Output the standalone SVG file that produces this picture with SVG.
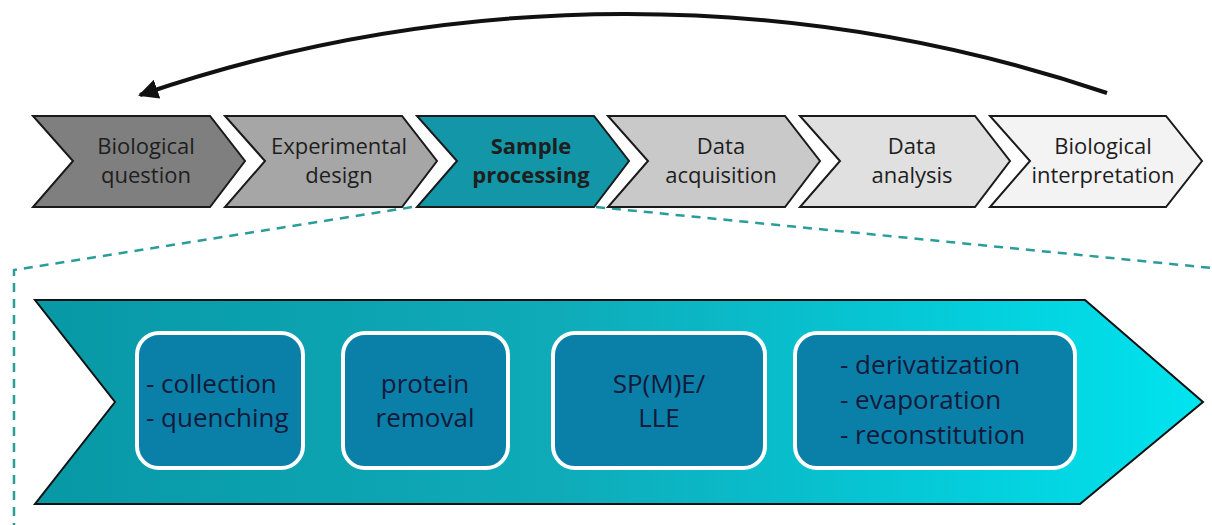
<svg xmlns="http://www.w3.org/2000/svg" width="1212" height="525" viewBox="0 0 1212 525">
  <defs>
    <style>
      .chev { stroke: #1a1a1a; stroke-width: 2; stroke-linejoin: miter; }
      .lbl { font-family: "Open Sans", "Liberation Sans", sans-serif; font-size: 22px; fill: #1e1e1e; text-anchor: middle; }
      .bold { font-weight: bold; }
      .step { fill: #0a7fa8; stroke: #ffffff; stroke-width: 4; }
      .stxt { font-family: "Open Sans", "Liberation Sans", sans-serif; font-size: 26px; fill: #141a3a; }
      .mid { text-anchor: middle; }
      .zoomline { fill: none; stroke: #2a9d9a; stroke-width: 2.5; stroke-dasharray: 9 7; }
    </style>
    <linearGradient id="bandFill" x1="0" y1="0" x2="1" y2="0">
      <stop offset="0" stop-color="#0898a6"/>
      <stop offset="0.45" stop-color="#0fabb9"/>
      <stop offset="0.75" stop-color="#06c8d6"/>
      <stop offset="1" stop-color="#00e4ef"/>
    </linearGradient>
    <marker id="head" viewBox="0 0 10 10" refX="9" refY="5" markerWidth="5" markerHeight="5" orient="auto" markerUnits="strokeWidth">
      <path d="M0,0 L10,5 L0,10 Z" fill="#111"/>
    </marker>
  </defs>

  <rect width="1212" height="525" fill="#ffffff"/>

  <!-- connectors: feedback arc and zoom-out guides -->
  <g id="connectors">
    <path d="M1107,93 A1500,1500 0 0 0 140,95" fill="none" stroke="#111" stroke-width="4" marker-end="url(#head)"/>
    <polyline class="zoomline" points="412,207 14,270 14,525"/>
    <line class="zoomline" x1="596" y1="207" x2="1212" y2="268"/>
  </g>

  <!-- workflow chevrons -->
  <g id="biological-question">
    <polygon class="chev" fill="#7f7f7f" points="33,116 210,116 245,161 210,207 33,207 73,161"/>
    <text class="lbl" x="146" y="154">Biological</text>
    <text class="lbl" x="146" y="183">question</text>
  </g>
  <g id="experimental-design">
    <polygon class="chev" fill="#a6a6a6" points="225,116 402,116 437,161 402,207 225,207 265,161"/>
    <text class="lbl" x="339" y="154">Experimental</text>
    <text class="lbl" x="339" y="183">design</text>
  </g>
  <g id="sample-processing">
    <polygon class="chev" fill="#1396a7" points="417,116 594,116 629,161 594,207 417,207 457,161"/>
    <text class="lbl bold" x="531" y="154">Sample</text>
    <text class="lbl bold" x="531" y="183">processing</text>
  </g>
  <g id="data-acquisition">
    <polygon class="chev" fill="#c9c9c9" points="608,116 785,116 820,161 785,207 608,207 648,161"/>
    <text class="lbl" x="721" y="154">Data</text>
    <text class="lbl" x="721" y="183">acquisition</text>
  </g>
  <g id="data-analysis">
    <polygon class="chev" fill="#e0e0e0" points="800,116 975,116 1010,161 975,207 800,207 840,161"/>
    <text class="lbl" x="912" y="154">Data</text>
    <text class="lbl" x="912" y="183">analysis</text>
  </g>
  <g id="biological-interpretation">
    <polygon class="chev" fill="#f3f3f3" points="990,116 1166,116 1202,161 1166,207 990,207 1030,161"/>
    <text class="lbl" x="1103" y="154">Biological</text>
    <text class="lbl" x="1103" y="183">interpretation</text>
  </g>

  <!-- expanded sample-processing band -->
  <g id="processing-band">
    <polygon fill="url(#bandFill)" stroke="#111" stroke-width="2" points="35,300 1085,300 1203,402 1080,504 35,504 115,402"/>
  </g>
  <g id="collection-quenching">
    <rect class="step" x="137" y="333" width="166" height="135" rx="22"/>
    <text class="stxt" x="146" y="393">- collection</text>
    <text class="stxt" x="146" y="427">- quenching</text>
  </g>
  <g id="protein-removal">
    <rect class="step" x="343" y="333" width="165" height="135" rx="22"/>
    <text class="stxt mid" x="425" y="393">protein</text>
    <text class="stxt mid" x="425" y="427">removal</text>
  </g>
  <g id="extraction">
    <rect class="step" x="553" y="333" width="212" height="135" rx="22"/>
    <text class="stxt mid" x="659" y="393">SP(M)E/</text>
    <text class="stxt mid" x="659" y="427">LLE</text>
  </g>
  <g id="derivatization">
    <rect class="step" x="795" y="333" width="280" height="135" rx="22"/>
    <text class="stxt" x="840" y="374">- derivatization</text>
    <text class="stxt" x="840" y="409">- evaporation</text>
    <text class="stxt" x="840" y="444">- reconstitution</text>
  </g>
</svg>
